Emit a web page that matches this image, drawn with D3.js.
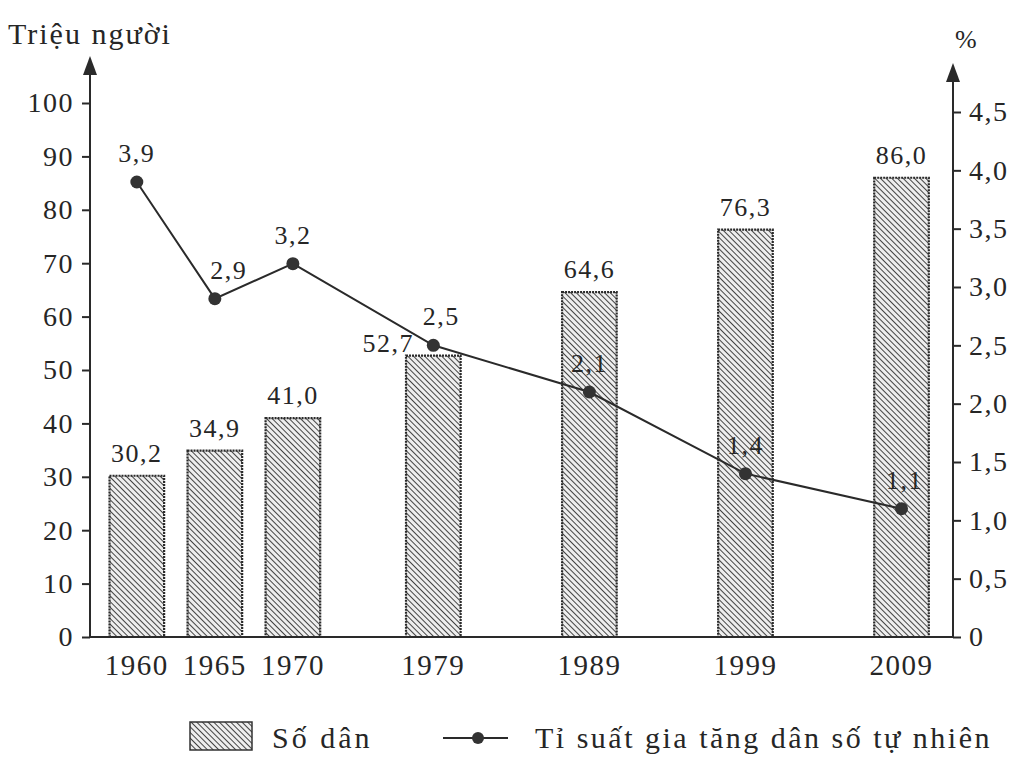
<!DOCTYPE html>
<html>
<head>
<meta charset="utf-8">
<script src="https://cdn.jsdelivr.net/npm/d3@7"></script>
<style>
  html, body { margin: 0; padding: 0; background: #fff; }
  svg { display: block; font-family: "Liberation Serif", "DejaVu Serif", serif; }
  text { fill: #262626; }
</style>
</head>
<body>
<svg id="chart" width="1024" height="762"></svg>
<script>
// data
const years = [1960, 1965, 1970, 1979, 1989, 1999, 2009];
const population = [30.2, 34.9, 41.0, 52.7, 64.6, 76.3, 86.0];
const growthRate = [3.9, 2.9, 3.2, 2.5, 2.1, 1.4, 1.1];
const leftTicks = [0, 10, 20, 30, 40, 50, 60, 70, 80, 90, 100];
const rightTicks = [0, 0.5, 1.0, 1.5, 2.0, 2.5, 3.0, 3.5, 4.0, 4.5];

const ink = "#2a2a2a";
const svg = d3.select("#chart");
const fmt = d => d3.format(".1f")(d).replace(".", ",");

const x0 = 90, x1 = 953, base = 637;
const x = d3.scaleLinear().domain([1957, 2012.3]).range([x0, x1]);
const yL = d3.scaleLinear().domain([0, 100]).range([base, 103]);
const yR = d3.scaleLinear().domain([0, 4.5]).range([base, 112]);
const barW = x(1963.5) - x(1960);

// hatch pattern
const defs = svg.append("defs");
const pat = defs.append("pattern")
  .attr("id", "hatch")
  .attr("patternUnits", "userSpaceOnUse")
  .attr("width", 4).attr("height", 4)
  .attr("patternTransform", "rotate(-45)");
pat.append("rect").attr("width", 4).attr("height", 4).attr("fill", "#eeeeee");
pat.append("line").attr("x1", 0).attr("y1", 0).attr("x2", 0).attr("y2", 4)
  .attr("stroke", "#444").attr("stroke-width", 2);

// bars
svg.selectAll(".bar")
  .data(years)
  .enter()
  .append("rect")
  .attr("class", "bar")
  .attr("x", (d) => x(d) - barW / 2)
  .attr("y", (d, i) => yL(population[i]))
  .attr("width", barW)
  .attr("height", (d, i) => base - yL(population[i]))
  .attr("fill", "url(#hatch)")
  .attr("stroke", "#2a2a2a")
  .attr("stroke-width", 2.2)
  .attr("stroke-dasharray", "2,1");

// bar labels (1979 label pushed left to leave room for the line label)
svg.selectAll(".barlabel")
  .data(years)
  .enter()
  .append("text")
  .attr("class", "barlabel")
  .attr("x", (d) => x(d) + (d === 1979 ? -45 : 0))
  .attr("y", (d, i) => yL(population[i]) - (d === 1979 ? 4 : 14))
  .attr("text-anchor", "middle")
  .style("font-size", "26px")
  .style("letter-spacing", "1.5px")
  .text((d, i) => fmt(population[i]));

// axes
const left = svg.append("g").attr("transform", "translate(" + x0 + ",0)")
  .call(d3.axisLeft(yL).tickValues(leftTicks).tickSize(8).tickPadding(8).tickFormat(d3.format("d")));
const right = svg.append("g").attr("transform", "translate(" + x1 + ",0)")
  .call(d3.axisRight(yR).tickValues(rightTicks).tickSize(8).tickPadding(8)
    .tickFormat(d => d === 0 ? "0" : fmt(d)));
[left, right].forEach(g => {
  g.select(".domain").remove();
  g.selectAll("line").attr("stroke", ink).attr("stroke-width", 2);
  g.selectAll("text").attr("fill", ink).style("font-size", "28px")
    .style("font-family", "Liberation Serif").style("letter-spacing", "1.5px");
});

// axis lines with arrows
svg.append("line").attr("x1", x0).attr("x2", x0).attr("y1", base).attr("y2", 72)
  .attr("stroke", ink).attr("stroke-width", 2);
svg.append("line").attr("x1", x1).attr("x2", x1).attr("y1", base).attr("y2", 78)
  .attr("stroke", ink).attr("stroke-width", 2);
svg.append("line").attr("x1", x0).attr("x2", x1).attr("y1", base).attr("y2", base)
  .attr("stroke", ink).attr("stroke-width", 2);
svg.append("path").attr("d", `M${x0},56 L${x0 - 7},75 L${x0 + 7},75 Z`).attr("fill", ink);
svg.append("path").attr("d", `M${x1},63 L${x1 - 7},82 L${x1 + 7},82 Z`).attr("fill", ink);

// x labels
svg.selectAll(".xlabel")
  .data(years)
  .enter()
  .append("text")
  .attr("x", (d) => x(d))
  .attr("y", base + 38)
  .attr("text-anchor", "middle")
  .style("font-size", "29px")
  .style("letter-spacing", "1.5px")
  .text((d) => d);

// axis titles
svg.append("text").attr("x", 8).attr("y", 44).style("font-size", "30px")
  .style("letter-spacing", "2px").text("Triệu người");
svg.append("text").attr("x", 955).attr("y", 48).style("font-size", "26px").text("%");

// growth-rate line
const line = d3.line().x((d) => x(d)).y((d, i) => yR(growthRate[i]));
svg.append("path").datum(years)
  .attr("d", line)
  .attr("fill", "none")
  .attr("stroke", ink)
  .attr("stroke-width", 2);
svg.selectAll(".dot")
  .data(years)
  .enter()
  .append("circle")
  .attr("cx", (d) => x(d))
  .attr("cy", (d, i) => yR(growthRate[i]))
  .attr("r", 6.5)
  .attr("fill", "#333");
const nudge = { 1965: 14, 1979: 8, 2009: 3 };
svg.selectAll(".linelabel")
  .data(years)
  .enter()
  .append("text")
  .attr("x", (d) => x(d) + (nudge[d] || 0))
  .attr("y", (d, i) => yR(growthRate[i]) - 20)
  .attr("text-anchor", "middle")
  .style("font-size", "26px")
  .style("letter-spacing", "1.5px")
  .text((d, i) => fmt(growthRate[i]));

// legend
svg.append("rect").attr("x", 190).attr("y", 722).attr("width", 62).attr("height", 28)
  .attr("fill", "url(#hatch)").attr("stroke", "#333").attr("stroke-width", 1.5);
svg.append("text").attr("x", 272).attr("y", 748).style("font-size", "30px")
  .style("letter-spacing", "3px").text("Số dân");
svg.append("line").attr("x1", 443).attr("x2", 508).attr("y1", 738).attr("y2", 738)
  .attr("stroke", ink).attr("stroke-width", 2);
svg.append("circle").attr("cx", 478).attr("cy", 738).attr("r", 6).attr("fill", "#333");
svg.append("text").attr("x", 535).attr("y", 748).style("font-size", "30px")
  .style("letter-spacing", "2.5px").text("Tỉ suất gia tăng dân số tự nhiên");
</script>
</body>
</html>
